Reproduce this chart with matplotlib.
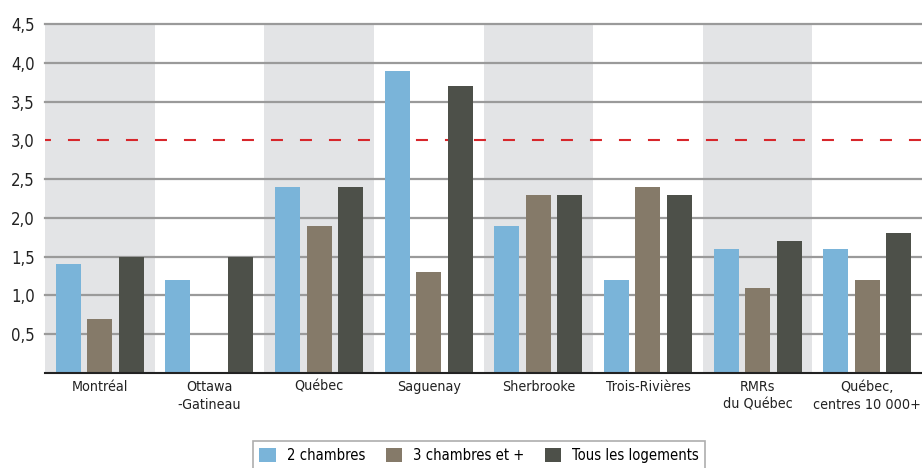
import matplotlib
matplotlib.use("Agg")
import matplotlib.pyplot as plt
import numpy as np

categories = ["Montréal", "Ottawa\n-Gatineau", "Québec", "Saguenay", "Sherbrooke",
              "Trois-Rivières", "RMRs\ndu Québec", "Québec,\ncentres 10 000+"]
series_names = ["2 chambres", "3 chambres et +", "Tous les logements"]
deux_chambres = [1.4, 1.2, 2.4, 3.9, 1.9, 1.2, 1.6, 1.6]
trois_chambres = [0.7, 0.0, 1.9, 1.3, 2.3, 2.4, 1.1, 1.2]
tous_logements = [1.5, 1.5, 2.4, 3.7, 2.3, 2.3, 1.7, 1.8]
yticks = [0.5, 1.0, 1.5, 2.0, 2.5, 3.0, 3.5, 4.0, 4.5]
ytick_labels = ["0,5", "1,0", "1,5", "2,0", "2,5", "3,0", "3,5", "4,0", "4,5"]
threshold = 3.0

plt.rcParams['font.family'] = ['DejaVu Sans']
plt.rcParams['font.stretch'] = 'condensed'

colors = ["#7ab4d9", "#857a69", "#4d5049"]
fig = plt.figure(figsize=(9.22, 4.68), dpi=100)
ax = fig.add_axes([45/922, 1 - 373/468, 1 - 45/922, (373 - 24)/468])

x = np.arange(len(categories))
for i in range(0, len(categories), 2):
    ax.axvspan(i - 0.5, i + 0.5, color="#e3e4e6", zorder=0, lw=0)

for yv in yticks:
    if yv == threshold:
        continue
    ax.axhline(yv, color="#9a9a9a", lw=1.6, zorder=1, clip_on=False)
ax.axhline(threshold, color="#d7262b", lw=1.5, zorder=1, linestyle=(2.9, (5.76, 8.16)))

width = 0.228
offs = [-0.287, 0.0, 0.287]
handles = []
for vals, off, c, name in zip([deux_chambres, trois_chambres, tous_logements], offs, colors, series_names):
    h = ax.bar(x + off, vals, width=width, color=c, zorder=3, label=name)
    handles.append(h)

ax.set_xlim(-0.5, len(categories) - 0.5)
ax.set_ylim(0, 4.5)
ax.set_yticks(yticks)
ax.set_yticklabels(ytick_labels, fontsize=12, color="#222222")
ax.set_xticks(x)
ax.set_xticklabels(categories, fontsize=10.3, color="#222222", linespacing=1.35)
ax.tick_params(axis="x", length=0, pad=5)
ax.tick_params(axis="y", length=0, pad=7.5)
for s in ["top", "right", "left"]:
    ax.spines[s].set_visible(False)
ax.spines["bottom"].set_color("#222222")
ax.spines["bottom"].set_linewidth(1.5)
ax.spines["bottom"].set_zorder(4)

leg = fig.legend(handles=handles, labels=series_names, loc="upper center",
                 bbox_to_anchor=(479/922, 1 - 441/468), ncol=3, fontsize=10.6,
                 frameon=True, fancybox=False, edgecolor="#9a9a9a",
                 handlelength=1.1, handleheight=1.1, columnspacing=1.4,
                 handletextpad=0.75, borderpad=0.45, borderaxespad=0)
leg.get_frame().set_linewidth(1.2)

fig.savefig("out.png", dpi=100)
